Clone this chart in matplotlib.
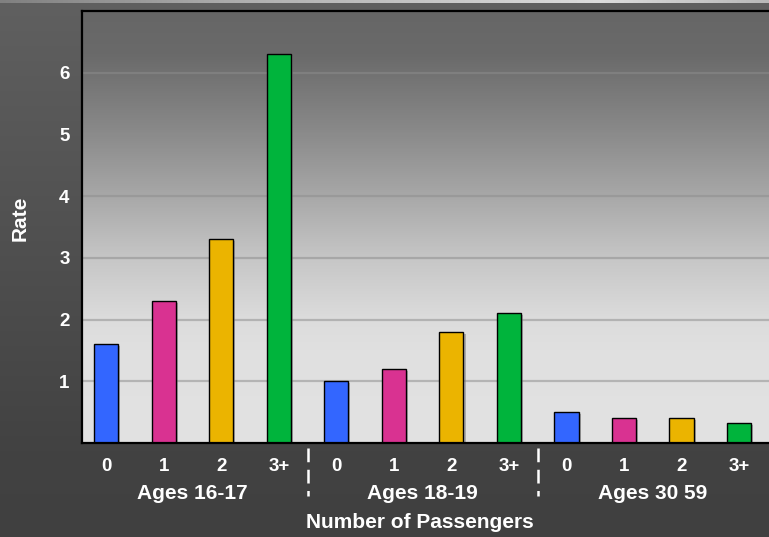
import numpy as np
import matplotlib
matplotlib.use("Agg")
import matplotlib.pyplot as plt
import matplotlib.transforms as mtransforms
import matplotlib.patheffects as pe

plt.rcParams['font.family'] = ['Liberation Sans', 'DejaVu Sans']
plt.rcParams['font.weight'] = 'bold'

# passenger counts inside each age group, and the crash rate for each
passengers = ["0", "1", "2", "3+"]
age_groups = ["Ages 16-17", "Ages 18-19", "Ages 30 59"]
rate_16_17 = [1.6, 2.3, 3.3, 6.3]
rate_18_19 = [1.0, 1.2, 1.8, 2.1]
rate_30_59 = [0.5, 0.4, 0.4, 0.33]
bar_colors = ["#3366ff", "#d93291", "#ebb400", "#00b43c"]

rates = [rate_16_17, rate_18_19, rate_30_59]
n = len(passengers)

W, H = 769, 537
fig = plt.figure(figsize=(W / 100, H / 100), dpi=100)

# dark figure background with a thin light strip along the top
bg_ax = fig.add_axes([0, 0, 1, 1], zorder=-10)
rows = np.interp(np.arange(H), [0, 450, H], [0x60, 0x42, 0x40]) / 255.0
bg = np.repeat(rows[:, None], W, axis=1)
bg[:3, :] = np.interp(np.arange(W), [0, 250, 600, W], [0x80, 0xb0, 0xdc, 0xb8]) / 255.0
bg_ax.imshow(np.dstack([bg, bg, bg]), aspect='auto', extent=[0, 1, 0, 1])
bg_ax.set_axis_off()

ax = fig.add_axes([82 / W, 94 / H, 1 - 82 / W, 432 / H])
ax.patch.set_visible(False)

x = np.arange(n * len(age_groups))
values = [v for group in rates for v in group]
colors = bar_colors * len(age_groups)
labels = passengers * len(age_groups)

ax.set_xlim(-0.42, 11.52)
ax.set_ylim(0, 7)

# vertical gray gradient inside the plot area (top row = y of 7)
yy = np.linspace(7, 0, 300)
shade = np.interp(yy, [0, 1.5, 2, 3, 4, 5, 6.3, 7],
                  [226, 224, 220, 198, 168, 139, 106, 102]) / 255.0
grad = np.repeat(shade[:, None], 2, axis=1)
ax.imshow(np.dstack([grad, grad, grad]), aspect='auto',
          extent=[-0.42, 11.52, 0, 7], zorder=0)

for yv in range(1, 7):
    ax.axhline(yv, color="#8d8d8d", alpha=0.53, lw=1.6, zorder=1)

bars = ax.bar(x, values, width=0.42, color=colors, edgecolor="black",
              linewidth=1.0, zorder=3)
for b in bars:
    b.set_path_effects([pe.SimplePatchShadow(offset=(1.5, -1.5), shadow_rgbFace="#777777", alpha=0.5),
                        pe.Normal()])

ax.set_yticks(range(1, 7))
ax.set_xticks(x)
ax.set_xticklabels(labels)
ax.tick_params(axis='both', length=0, colors='white', labelsize=13.5)
ax.tick_params(axis='x', pad=11)
ax.tick_params(axis='y', pad=9)

for side in ['left', 'top', 'bottom']:
    ax.spines[side].set_linewidth(1.6)
    ax.spines[side].set_color('black')
    ax.spines[side].set_zorder(5)
ax.spines['right'].set_visible(False)

trans = mtransforms.blended_transform_factory(ax.transData, ax.transAxes)
for i, name in enumerate(age_groups):
    center = i * n + (n - 1) / 2
    ax.text(center, -0.116, name, transform=trans, ha='center', va='center',
            color='white', fontsize=15, fontweight='bold')

# dashed separators between the age groups
for i in range(1, len(age_groups)):
    ax.plot([i * n - 0.5, i * n - 0.5], [-0.012, -0.123], transform=trans,
            color='white', lw=1.8, linestyle=(0, (5.5, 3)), clip_on=False)

fig.text(420 / W, 1 - 523 / H, "Number of Passengers", ha='center', va='center',
         color='white', fontsize=15, fontweight='bold')
fig.text(20 / W, 1 - 218 / H, "Rate", rotation=90, ha='center', va='center',
         color='white', fontsize=15, fontweight='bold')

fig.savefig("out.png", dpi=100)
